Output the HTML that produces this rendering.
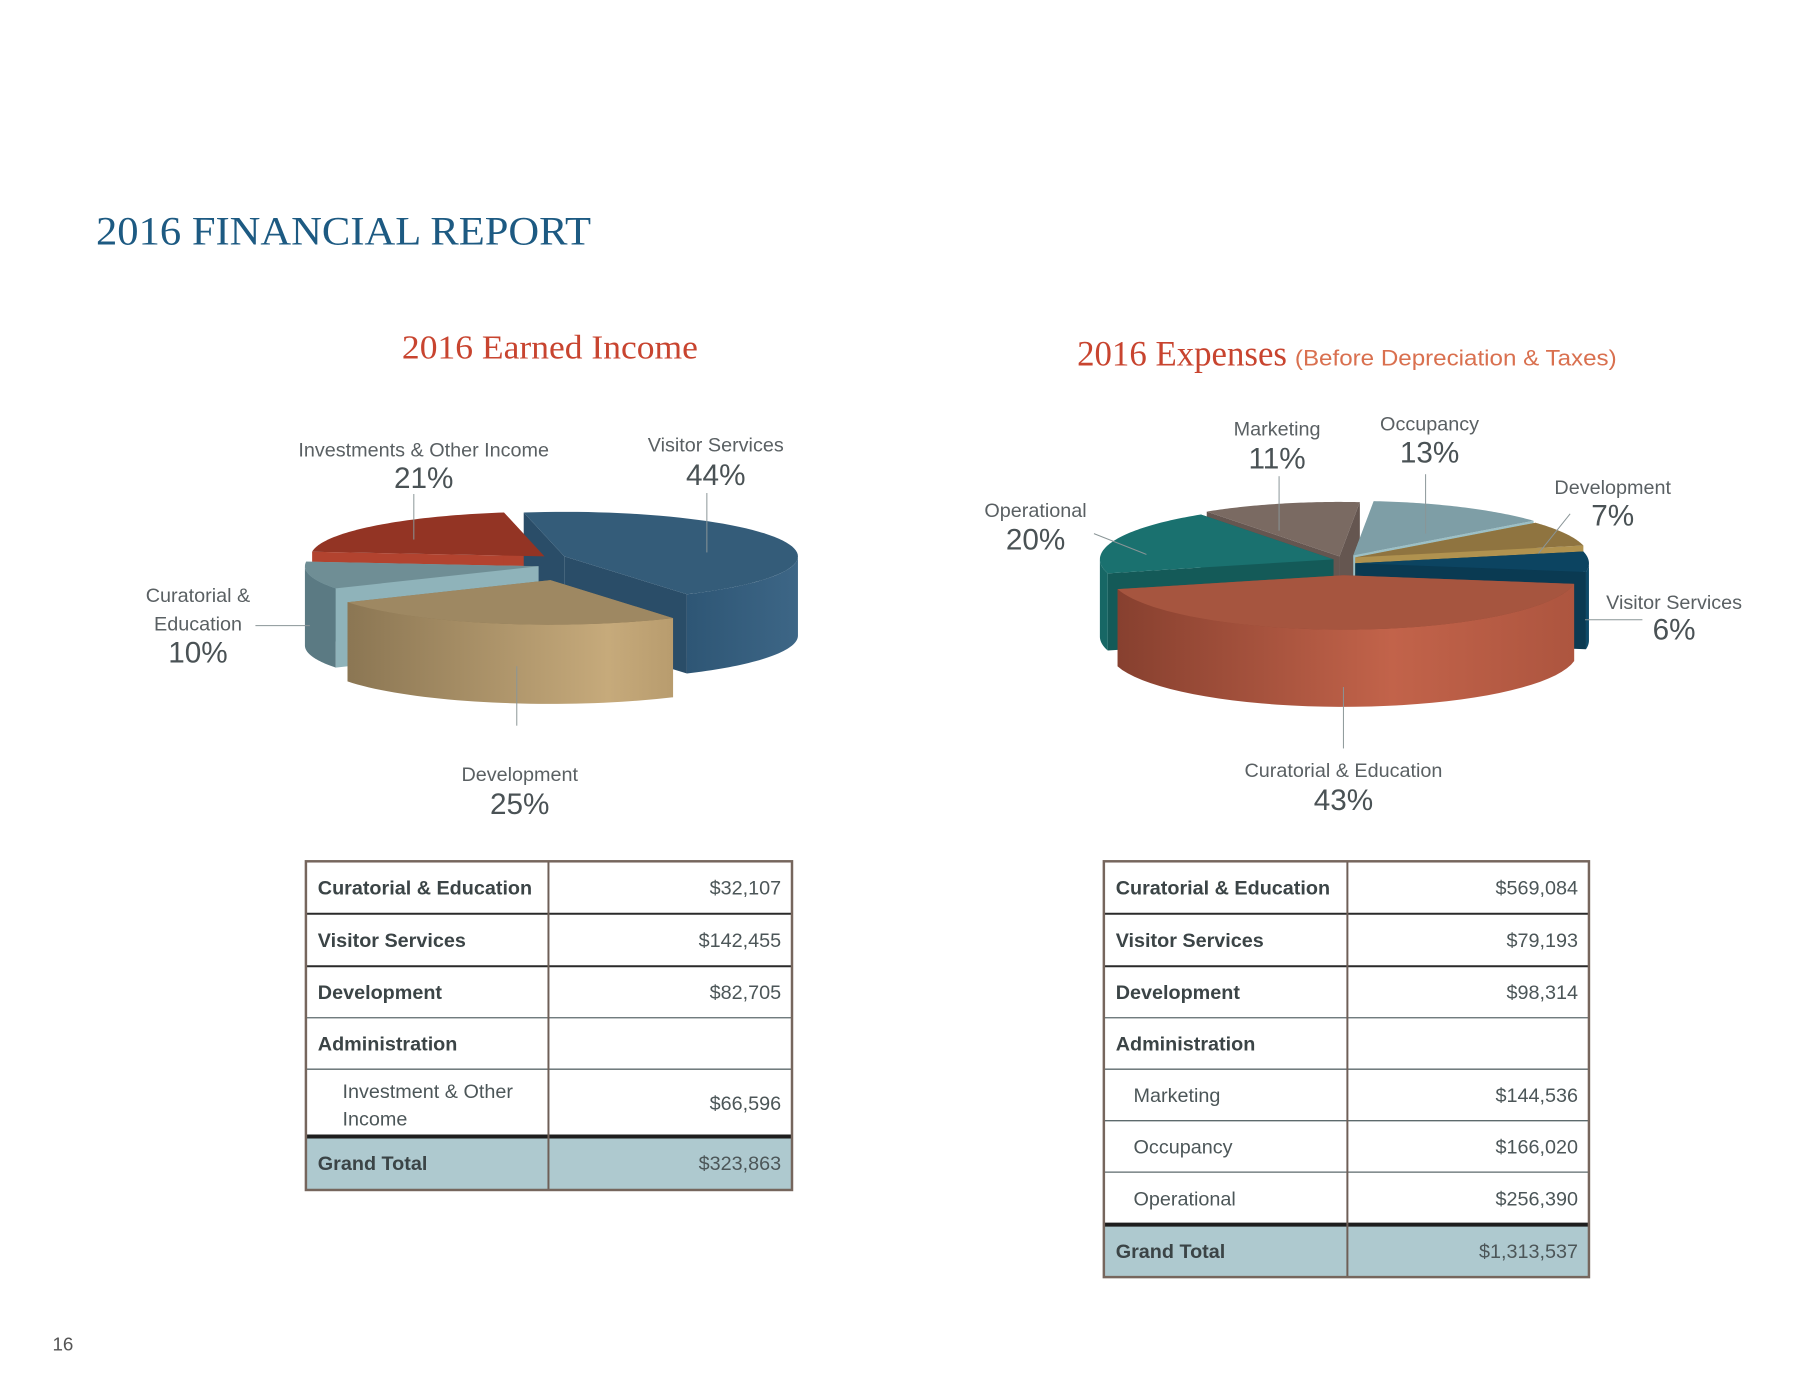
<!DOCTYPE html>
<html><head><meta charset="utf-8"><style>
html,body{margin:0;padding:0;background:#fff;}
svg{display:block;}
.lbl{font-family:"Liberation Sans",sans-serif;fill:#5a6063;font-size:20px;}
.pct{font-family:"Liberation Sans",sans-serif;fill:#4a5255;font-size:30px;}
.tl{font-family:"Liberation Sans",sans-serif;fill:#3b4446;font-size:20px;font-weight:bold;}
.tv{font-family:"Liberation Sans",sans-serif;fill:#4c5658;font-size:20px;}
.ts{font-family:"Liberation Sans",sans-serif;fill:#4c5658;font-size:20px;}
</style></head><body>
<svg id="page" width="1800" height="1400" viewBox="0 0 1800 1400" xmlns="http://www.w3.org/2000/svg">
<defs>
<linearGradient id="gDev" x1="0" x2="1" y1="0" y2="0"><stop offset="0" stop-color="#8b7653"/><stop offset="0.8" stop-color="#c6aa7b"/><stop offset="1" stop-color="#b89c6e"/></linearGradient>
<linearGradient id="gBlue" x1="0" x2="1"><stop offset="0" stop-color="#2e5675"/><stop offset="1" stop-color="#3d6686"/></linearGradient>
<linearGradient id="gCur" x1="0" x2="1"><stop offset="0" stop-color="#87402f"/><stop offset="0.6" stop-color="#c2634a"/><stop offset="1" stop-color="#ad553f"/></linearGradient>
</defs>
<g transform="scale(0.99)">
<text x="97" y="247" font-family="Liberation Serif, serif" font-size="41" fill="#1d5a82" textLength="500" lengthAdjust="spacingAndGlyphs">2016 FINANCIAL REPORT</text>
<text x="406" y="362" font-family="Liberation Serif, serif" font-size="34" fill="#c8442f" textLength="299" lengthAdjust="spacingAndGlyphs">2016 Earned Income</text>
<text x="1088" y="369" font-family="Liberation Serif, serif" font-size="36" fill="#c8442f" textLength="212" lengthAdjust="spacingAndGlyphs">2016 Expenses</text>
<text x="1308" y="369" font-family="Liberation Sans, sans-serif" font-size="22" fill="#d9704f" textLength="325" lengthAdjust="spacingAndGlyphs">(Before Depreciation &amp; Taxes)</text>
<g id="income-pie"></g>
<g id="expense-pie"></g>
<g id="income-table"></g>
<g id="expense-table"></g>
<text x="53" y="1364" font-family="Liberation Sans, sans-serif" font-size="19" fill="#555">16</text>
</g>
</svg>
<script>
// ---- data ----
const incomeLabels = ["Visitor Services","Development","Curatorial & Education","Investments & Other Income"];
const incomeValues = [142455, 82705, 32107, 66596];
const incomePercents = ["44%","25%","10%","21%"];
const expenseLabels = ["Occupancy","Development","Visitor Services","Curatorial & Education","Operational","Marketing"];
const expenseValues = [166020, 98314, 79193, 569084, 256390, 144536];
const expensePercents = ["13%","7%","6%","43%","20%","11%"];
const incomeTableLabels = ["Curatorial & Education","Visitor Services","Development","Administration","Investment & Other Income","Grand Total"];
const incomeTableValues = ["$32,107","$142,455","$82,705","","$66,596","$323,863"];
const expenseTableLabels = ["Curatorial & Education","Visitor Services","Development","Administration","Marketing","Occupancy","Operational","Grand Total"];
const expenseTableValues = ["$569,084","$79,193","$98,314","","$144,536","$166,020","$256,390","$1,313,537"];

// ---- styles / layout (not data) ----
const incomeStyle = [
  {top:"#345c79", side:"url(#gBlue)", cut:"#2a4d68", ex:[14,-6]},
  {top:"#9e8862", side:"url(#gDev)", cut:"#8a7552", ex:[0,18]},
  {top:"#6f8e95", side:"#5b7a83", cut:"#8fb3ba", ex:[-12,4]},
  {top:"#933424", side:"#a33d2b", cut:"#b2432f", ex:[-6,-6]}
];
const expenseStyle = [
  {top:"#7e9ea6", side:"#8fb3ba", cut:"#9cc0c6", ex:[10,-4]},
  {top:"#8f7440", side:"#a58a52", cut:"#b0924f", ex:[12,-2]},
  {top:"#0c4461", side:"#0d4a68", cut:"#0a3a52", ex:[12,4]},
  {top:"#a6553f", side:"url(#gCur)", cut:"#8c4432", ex:[0,16]},
  {top:"#1a716f", side:"#176765", cut:"#145a58", ex:[-10,0]},
  {top:"#7a6a62", side:"#6d5e57", cut:"#655650", ex:[-4,-3]}
];
const incomeLabelPos = [
  {x:723,y:456,py:490,lead:[[714,498],[714,558]]},
  {x:525,y:789,py:822,lead:[[522,673],[522,733]]},
  {x:200,y:608,py:669,lead:[[258,632],[313,632]],extra:"Education",ey:637,lines:["Curatorial &"]},
  {x:428,y:461,py:493,lead:[[418,499],[418,545]]}
];
const expenseLabelPos = [
  {x:1444,y:435,py:467,lead:[[1440,479],[1440,539]]},
  {x:1629,y:499,py:531,lead:[[1586,519],[1554,559]]},
  {x:1691,y:615,py:646,lead:[[1601,626],[1659,626]]},
  {x:1357,y:785,py:818,lead:[[1357,694],[1357,756]]},
  {x:1046,y:522,py:555,lead:[[1105,539],[1158,560]]},
  {x:1290,y:440,py:473,lead:[[1292,481],[1292,536]]}
];
const NS = "http://www.w3.org/2000/svg";
function mk(tag, attrs, parent){const e=document.createElementNS(NS,tag);for(const k in attrs)e.setAttribute(k,attrs[k]);parent.appendChild(e);return e;}
const rad = d => d*Math.PI/180;

function drawPie(g, values, styles, geo, startDeg){
  const total = values.reduce((a,b)=>a+b,0);
  let a = startDeg;
  const slices = values.map((v,i)=>{const s=a; a+=v/total*360; return {i, s, e:a, mid:(s+a)/2};});
  const P = (sl, ang, down) => {
    const st = styles[sl.i];
    return [geo.cx+st.ex[0]+geo.rx*Math.cos(rad(ang)), geo.cy+st.ex[1]+geo.ry*Math.sin(rad(ang))+(down?geo.d:0)];
  };
  const C = (sl, down) => {const st=styles[sl.i]; return [geo.cx+st.ex[0], geo.cy+st.ex[1]+(down?geo.d:0)];};
  const order = slices.slice().sort((p,q)=>Math.sin(rad(p.mid))-Math.sin(rad(q.mid)));
  order.forEach(sl=>{
    const st = styles[sl.i];
    const grp = mk("g",{},g);
    
    
    [sl.s, sl.e].forEach(ang=>{
      const c0=C(sl,false), c1=C(sl,true), p0=P(sl,ang,false), p1=P(sl,ang,true);
      mk("path",{d:`M${c0}L${p0}L${p1}L${c1}Z`,fill:st.cut},grp);
    });
    let s = sl.s, e = sl.e;
    for(let base=-360; base<=360; base+=360){
      const ws=Math.max(s, base), we=Math.min(e, base+180);
      if(we>ws){
        let d="M"+P(sl,ws,false);
        const n=40;
        for(let k=1;k<=n;k++) d+="L"+P(sl,ws+(we-ws)*k/n,false);
        for(let k=n;k>=0;k--) d+="L"+P(sl,ws+(we-ws)*k/n,true);
        mk("path",{d:d+"Z",fill:st.side},grp);
      }
    }
  });
  order.forEach(sl=>{
    const st = styles[sl.i];
    let d="M"+C(sl,false);
    const n=60;
    for(let k=0;k<=n;k++) d+="L"+P(sl,sl.s+(sl.e-sl.s)*k/n,false);
    const top = mk("path",{d:d+"Z",fill:st.top},g);
    
    
  });
}
function drawLabels(g, labels, pcts, pos){
  labels.forEach((l,i)=>{
    const p = pos[i];
    const ln = mk("line",{x1:p.lead[0][0],y1:p.lead[0][1],x2:p.lead[1][0],y2:p.lead[1][1],stroke:"#8a9597","stroke-width":1},g);
    
    
    const t = mk("text",{x:p.x,y:p.y,"text-anchor":"middle",class:"lbl"},g);
    t.textContent = p.lines ? p.lines[0] : l;
    
    
    if(p.extra){
      const t2 = mk("text",{x:p.x,y:p.ey,"text-anchor":"middle",class:"lbl"},g);
      t2.textContent = p.extra;
      
      
    }
    const tp = mk("text",{x:p.x,y:p.py,"text-anchor":"middle",class:"pct"},g);
    tp.textContent = pcts[i];
    
    
  });
}
const ig = document.getElementById("income-pie");
drawPie(ig, incomeValues, incomeStyle, {cx:556,cy:568,rx:236,ry:45,d:80}, -100);
drawLabels(ig, incomeLabels, incomePercents, incomeLabelPos);
const eg = document.getElementById("expense-pie");
drawPie(eg, expenseValues, expenseStyle, {cx:1357,cy:565,rx:236,ry:55,d:78}, -85);
drawLabels(eg, expenseLabels, expensePercents, expenseLabelPos);

function drawTable(g, labels, values, x0, xm, x1, rowYs, subRows){
  const n = labels.length;
  const tot = mk("rect",{x:x0,y:rowYs[n-1],width:x1-x0,height:rowYs[n]-rowYs[n-1],fill:"#aec9cf"},g);
  
  
  for(let r=1;r<n;r++){
    const thick = (r===n-1);
    mk("line",{x1:x0,x2:x1,y1:rowYs[r],y2:rowYs[r],stroke:thick?"#1e1e1e":(r>=3?"#5d6a6c":"#2a2a2a"),"stroke-width":thick?4:(r>=3?1.3:2)},g);
  }
  mk("line",{x1:xm,x2:xm,y1:rowYs[0],y2:rowYs[n],stroke:"#6e5f57","stroke-width":2},g);
  const b = mk("rect",{x:x0,y:rowYs[0],width:x1-x0,height:rowYs[n]-rowYs[0],fill:"none",stroke:"#76665d","stroke-width":2.5},g);
  
  
  labels.forEach((l,r)=>{
    const mid = (rowYs[r]+rowYs[r+1])/2 + 7;
    const sub = subRows.includes(r);
    if(sub && l.length>20){
      const words = l.split(" ");
      const t1 = mk("text",{x:x0+37,y:mid-12,class:"ts"},g); t1.textContent = words.slice(0,3).join(" ");
      
      
      const t2 = mk("text",{x:x0+37,y:mid+16,class:"ts"},g); t2.textContent = words.slice(3).join(" ");
      
      
    } else {
      const t = mk("text",{x:x0+(sub?30:12),y:mid,class:sub?"ts":"tl"},g);
      t.textContent = l;
      
      
    }
    if(values[r]){
      const v = mk("text",{x:x1-11,y:mid,"text-anchor":"end",class:"tv"},g);
      v.textContent = values[r];
      
      
    }
  });
}
drawTable(document.getElementById("income-table"), incomeTableLabels, incomeTableValues, 309, 554, 800, [870,923,976,1028,1080,1148,1202], [4]);
drawTable(document.getElementById("expense-table"), expenseTableLabels, expenseTableValues, 1115, 1361, 1605, [870,923,976,1028,1080,1132,1184,1237,1290], [4,5,6]);
</script>
</body></html>
